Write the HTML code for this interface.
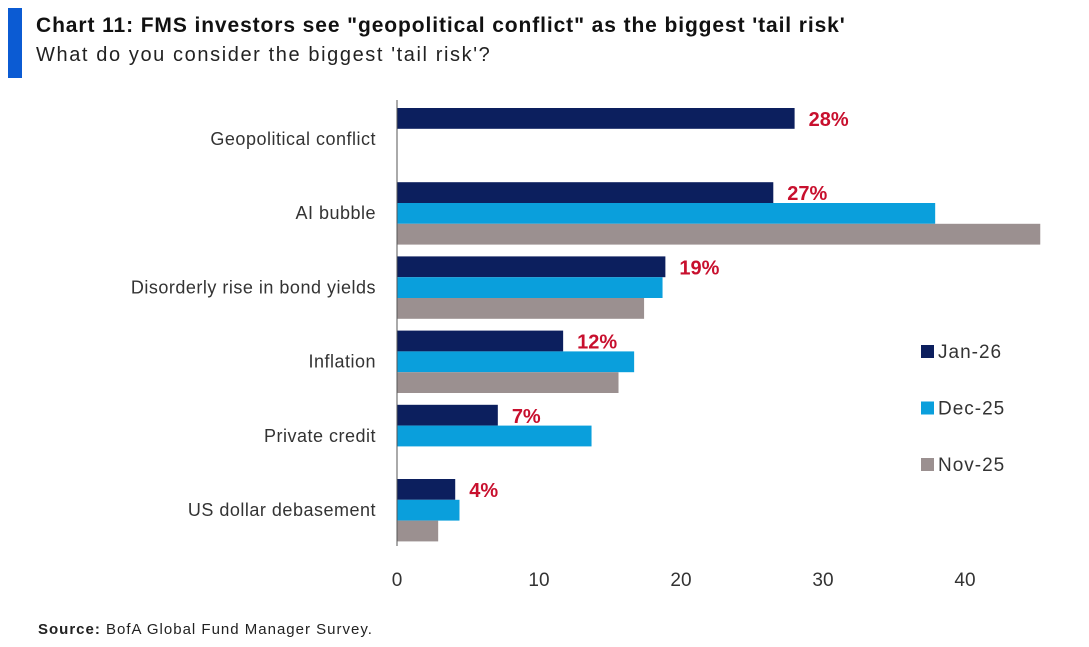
<!DOCTYPE html>
<html><head><meta charset="utf-8"><style>
body{margin:0;width:1089px;height:647px;background:#fff;font-family:"Liberation Sans",sans-serif;overflow:hidden;position:relative}
.t{position:absolute;white-space:nowrap}
</style></head><body>
<div style="position:absolute;left:8px;top:8px;width:14px;height:70px;background:#0b5bd3"></div>
<div class="t" style="left:36px;top:14px;font-size:21px;font-weight:bold;color:#111;letter-spacing:0.9px">Chart 11: FMS investors see "geopolitical conflict" as the biggest 'tail risk'</div>
<div class="t" style="left:36px;top:44px;font-size:20px;color:#222;letter-spacing:1.6px">What do you consider the biggest 'tail risk'?</div>
<svg id="chart" width="1089" height="647" style="position:absolute;left:0;top:0"></svg>
<div class="t" style="left:38px;top:621px;font-size:15px;color:#222;letter-spacing:1px"><b>Source:</b> BofA Global Fund Manager Survey.</div>
<script>
const categories=["Geopolitical conflict","AI bubble","Disorderly rise in bond yields","Inflation","Private credit","US dollar debasement"];
const jan26=[28,26.5,18.9,11.7,7.1,4.1];
const dec25=[null,37.9,18.7,16.7,13.7,4.4];
const nov25=[null,45.3,17.4,15.6,null,2.9];
const valueLabels=["28%","27%","19%","12%","7%","4%"];
const xTicks=[0,10,20,30,40];
const seriesNames=["Jan-26","Dec-25","Nov-25"];
const colors=["#0c1f5e","#0a9fdc","#9b9090"];
const svg=document.getElementById('chart');
const NS='http://www.w3.org/2000/svg';
const x0=397,scale=14.2;
const xs=v=>x0+v*scale;
const groupTop=i=>108+i*74.2;
const bh=20.8;
function mk(t,a){const e=document.createElementNS(NS,t);for(const k in a)e.setAttribute(k,a[k]);svg.appendChild(e);return e;}
const series=[jan26,dec25,nov25];
categories.forEach((c,i)=>{
  const gt=groupTop(i);
  series.forEach((s,j)=>{
    if(s[i]==null)return;
    const r=mk('rect',{x:x0,y:gt+j*bh,width:xs(s[i])-x0,height:bh,fill:colors[j]});
    
    
  });
  const l=mk('text',{x:376,y:gt+37,'text-anchor':'end','font-size':18,fill:'#333','letter-spacing':0.5});
  l.textContent=c;
  
  
  const v=mk('text',{x:xs(jan26[i])+14,y:gt+18,'font-size':20,'font-weight':'bold',fill:'#c8102e'});
  v.textContent=valueLabels[i];
  
  
});
const ax=mk('line',{x1:x0,y1:100,x2:x0,y2:546,stroke:'#555','stroke-width':1});


xTicks.forEach(t=>{
  const e=mk('text',{x:xs(t),y:586,'text-anchor':'middle','font-size':19,fill:'#333'});
  e.textContent=t;
  
  
});
seriesNames.forEach((n,j)=>{
  const y=352+j*56.5;
  const r=mk('rect',{x:921,y:y-7,width:13,height:13,fill:colors[j]});
  
  
  const t=mk('text',{x:938,y:y+6,'font-size':19,fill:'#333','letter-spacing':1});
  t.textContent=n;
  
  
});
</script>
</body></html>
